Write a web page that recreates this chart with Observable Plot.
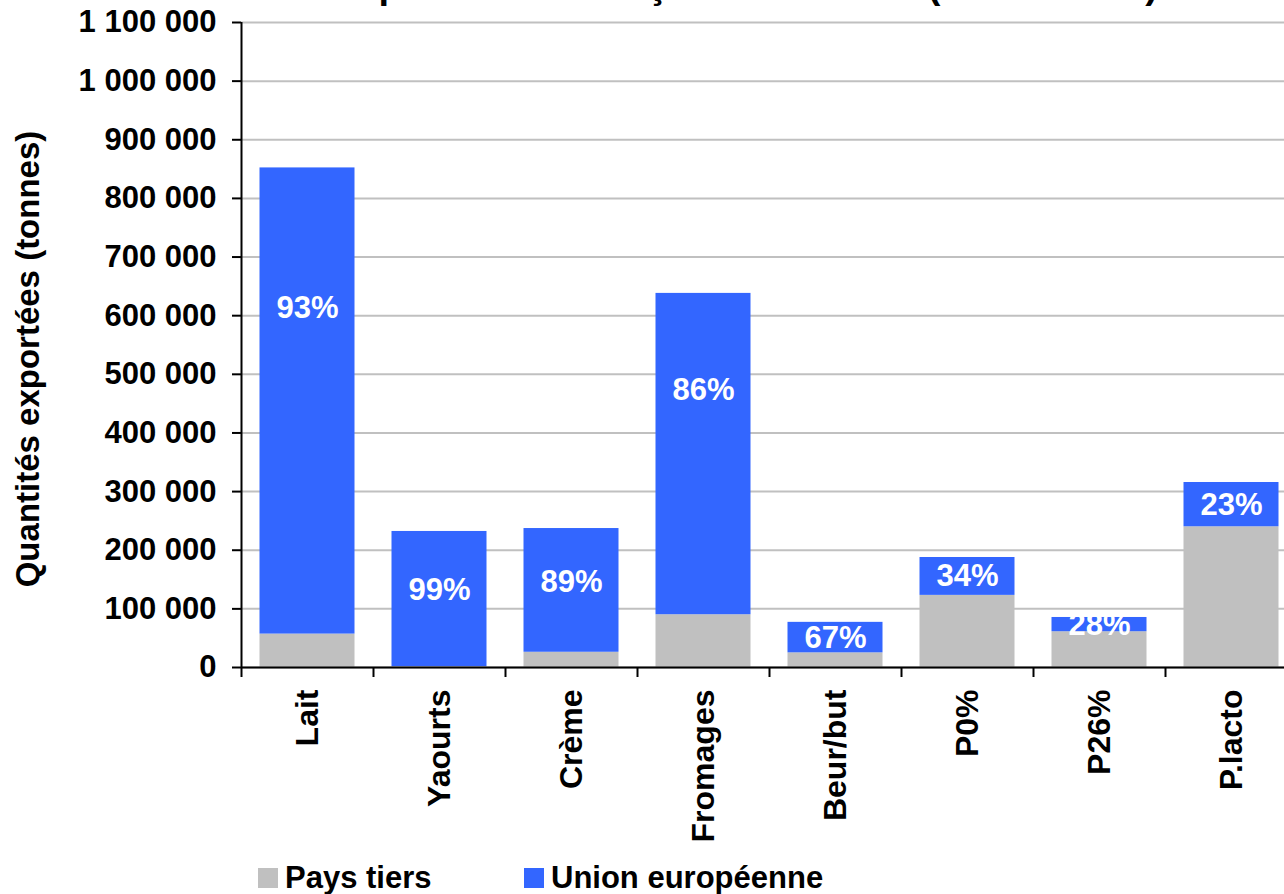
<!DOCTYPE html>
<html>
<head>
<meta charset="utf-8">
<script src="https://cdn.jsdelivr.net/npm/d3@7"></script>
<script src="https://cdn.jsdelivr.net/npm/@observablehq/plot@0.6"></script>
<style>
  html, body { margin: 0; padding: 0; overflow: hidden; background: #fff; width: 1284px; height: 894px; }
  body { position: relative; font-family: "Liberation Sans", Arial, sans-serif; font-weight: bold; color: #000; }
  #title { position: absolute; left: 0; width: 1490px; text-align: center; top: -34px; font-size: 38px; line-height: 38px; white-space: nowrap; }
  #chart { position: absolute; left: 0; top: 0; width: 1300px; }
  #chart svg { max-width: none !important; }
  #legend { position: absolute; top: 862px; left: 0; font-size: 31px; line-height: 31px; }
  .item { position: absolute; top: 0; white-space: nowrap; }
  .sw { position: absolute; top: 6px; width: 20px; height: 20px; }
</style>
</head>
<body>
<div id="title">Exportations françaises laitières (année 2007)</div>
<div id="chart"></div>
<div id="legend"></div>
<script>
// ---- data ----
const categories = ["Lait", "Yaourts", "Crème", "Fromages", "Beur/but", "P0%", "P26%", "P.lacto"];
const paysTiers = [57000, 1500, 26000, 90000, 25000, 123000, 61000, 240000];
const unionEuropeenne = [795000, 230500, 211000, 548000, 52000, 64600, 24300, 75500];
const partUE = [93, 99, 89, 86, 67, 34, 28, 23];
const seriesNames = ["Pays tiers", "Union européenne"];
const seriesColors = ["#c0c0c0", "#3366ff"];
const yTicks = [0, 100000, 200000, 300000, 400000, 500000, 600000, 700000, 800000, 900000, 1000000, 1100000];
const yLabel = "Quantités exportées (tonnes)";

// ---- build ----
const rows = [];
categories.forEach((c, i) => {
  rows.push({cat: c, serie: seriesNames[0], value: paysTiers[i]});
  rows.push({cat: c, serie: seriesNames[1], value: unionEuropeenne[i]});
});
const labels = categories.map((c, i) => ({
  cat: c,
  text: partUE[i] + "%",
  y: paysTiers[i] + unionEuropeenne[i] * (unionEuropeenne[i] > 400000 ? 0.7 : unionEuropeenne[i] > 150000 ? 0.57 : 0.5)
}));

const fr = d3.formatLocale({decimal: ",", thousands: " ", grouping: [3], currency: ["", " €"]});
const fmt = fr.format(",d");

const W = 1300, H = 860, mL = 241, mR = 3, mT = 22, mB = 193;
const bw = (W - mL - mR) / categories.length;
const font = '"Liberation Sans", Arial, sans-serif';

const chart = Plot.plot({
  width: W, height: H,
  marginLeft: mL, marginRight: mR, marginTop: mT, marginBottom: mB,
  style: {fontFamily: font, fontWeight: "bold", fontSize: "31px", color: "#000", background: "transparent", overflow: "visible", maxWidth: "none"},
  x: {domain: categories, padding: 0},
  y: {domain: [0, 1100000]},
  color: {domain: seriesNames, range: seriesColors},
  marks: [
    Plot.gridY(yTicks, {stroke: "#c0c0c0", strokeOpacity: 1, strokeWidth: 2}),
    Plot.barY(rows, Plot.stackY({x: "cat", y: "value", fill: "serie", insetLeft: 18.5, insetRight: 18.5, order: null})),
    Plot.text(labels, {x: "cat", y: "y", text: "text", fill: "white", fontSize: 31, fontWeight: "bold"}),
    Plot.ruleY([0], {stroke: "#000", strokeWidth: 2}),
    Plot.ruleX([categories[0]], {y1: 0, y2: 1100000, dx: -bw / 2, stroke: "#000", strokeWidth: 2}),
    Plot.axisY({ticks: yTicks, tickFormat: fmt, tickSize: 9, tickPadding: 16, strokeWidth: 2, label: null, fontSize: 31}),
    Plot.axisX({ticks: categories, tickSize: 10, tickFormat: () => "", dx: -bw / 2, strokeWidth: 2, label: null}),
    Plot.axisX({tickSize: 0, tickRotate: -90, tickPadding: 22, label: null, fontSize: 32}),
    Plot.text([yLabel], {frameAnchor: "left", textAnchor: "middle", dx: -213, dy: 14, rotate: -90, fontSize: 33, fontWeight: "bold", fill: "#000"})
  ]
});
document.getElementById("chart").appendChild(chart);

// legend
const legend = document.getElementById("legend");
const legendPos = [258, 524];
seriesNames.forEach((n, i) => {
  const sw = document.createElement("div");
  sw.className = "sw";
  sw.style.left = legendPos[i] + "px";
  sw.style.background = seriesColors[i];
  legend.appendChild(sw);
  const t = document.createElement("div");
  t.className = "item";
  t.style.left = (legendPos[i] + 27) + "px";
  t.textContent = n;
  legend.appendChild(t);
});
</script>
</body>
</html>
